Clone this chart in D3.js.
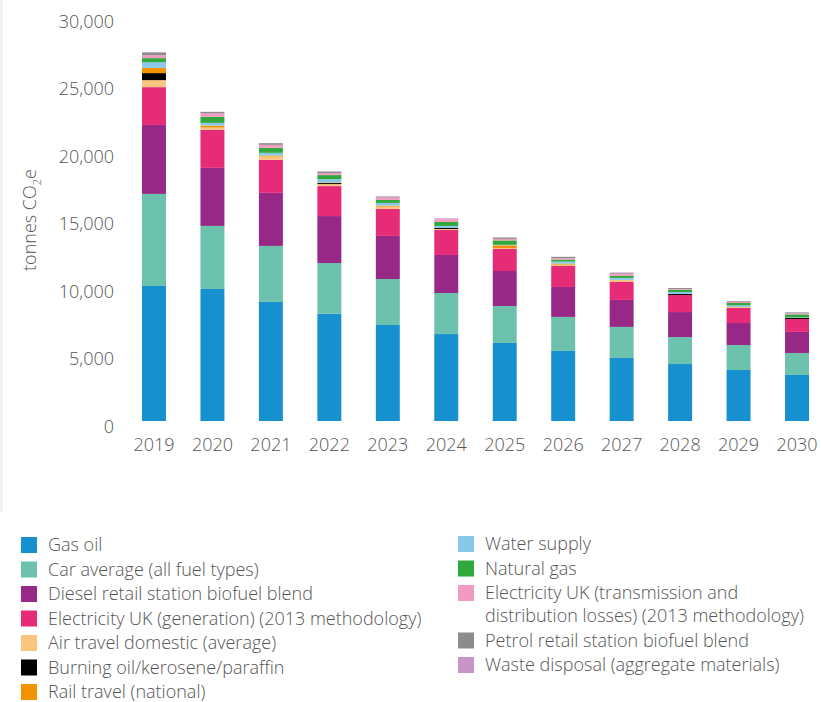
<!DOCTYPE html>
<html>
<head>
<meta charset="utf-8">
<script src="https://cdn.jsdelivr.net/npm/d3@7"></script>
<style>
  body { margin: 0; background: #fff; }
  text { font-family: "Open Sans", sans-serif; font-weight: 300; fill: #555; }
</style>
</head>
<body>
<svg id="chart" width="821" height="702"></svg>
<script>
var years = ['2019', '2020', '2021', '2022', '2023', '2024', '2025', '2026', '2027', '2028', '2029', '2030']
var yTicks = [0, 5000, 10000, 15000, 20000, 25000, 30000]

// tonnes CO2e per source, one value per year
var gasOil      = [10000, 9780, 8820, 7950, 7110, 6440, 5780, 5190, 4670, 4220, 3780, 3410]
var carAverage  = [6820, 4670, 4150, 3750, 3410, 3040, 2740, 2520, 2300, 2000, 1850, 1630]
var diesel      = [5110, 4300, 3930, 3480, 3190, 2820, 2590, 2220, 2000, 1850, 1630, 1560]
var elecGen     = [2800, 2815, 2445, 2220, 2000, 1850, 1630, 1555, 1330, 1260, 1110, 960]
var airTravel   = [520, 170, 245, 150, 170, 75, 75, 100, 150, 0, 75, 0]
var burningOil  = [520, 0, 0, 75, 0, 75, 0, 0, 0, 75, 0, 75]
var railTravel  = [390, 150, 75, 40, 75, 0, 200, 75, 0, 0, 0, 0]
var waterSupply = [420, 200, 200, 250, 200, 150, 40, 150, 150, 150, 125, 40]
var naturalGas  = [300, 445, 370, 300, 220, 300, 320, 150, 150, 170, 170, 220]
var elecTD      = [220, 270, 220, 150, 170, 200, 120, 100, 150, 50, 100, 75]
var petrol      = [200, 100, 125, 100, 40, 0, 100, 100, 50, 75, 50, 75]
var waste       = [30, 0, 0, 30, 60, 60, 0, 0, 50, 0, 0, 0]

var series = [
  { name: 'Gas oil', values: gasOil, color: '#1790d0' }
, { name: 'Car average (all fuel types)', values: carAverage, color: '#6dc2ae' }
, { name: 'Diesel retail station biofuel blend', values: diesel, color: '#982886' }
, { name: 'Electricity UK (generation) (2013 methodology)', values: elecGen, color: '#e72c77' }
, { name: 'Air travel domestic (average)', values: airTravel, color: '#fbc580' }
, { name: 'Burning oil/kerosene/paraffin', values: burningOil, color: '#000000' }
, { name: 'Rail travel (national)', values: railTravel, color: '#f39200' }
, { name: 'Water supply', values: waterSupply, color: '#8ac8ea' }
, { name: 'Natural gas', values: naturalGas, color: '#31a83c' }
, { name: ['Electricity UK (transmission and', 'distribution losses) (2013 methodology)'], values: elecTD, color: '#f39ac0' }
, { name: 'Petrol retail station biofuel blend', values: petrol, color: '#8c8c8e' }
, { name: 'Waste disposal (aggregate materials)', values: waste, color: '#c994c7' }
]

var svg = d3.select('#chart')

// faint frame line on the left edge
svg.append('line')
  .attr('x1', 1.5).attr('x2', 1.5)
  .attr('y1', 0).attr('y2', 512)
  .style('stroke', '#e4eff0')
  .style('stroke-width', 2)

var x = d3.scaleBand().domain(years).range([142, 809]).paddingInner(0.59).paddingOuter(0)
,   y = d3.scaleLinear().domain([0, 30000]).range([421, 16])

var table = years.map((yr, i) => {
  var row = { year: yr }
  series.forEach((s, k) => { row['s' + k] = s.values[i] })
  return row
})

var stack = d3.stack().keys(series.map((s, k) => 's' + k))(table)

var layers = svg.append('g').selectAll('g')
  .data(stack)
  .enter().append('g')
  .style('fill', (d, k) => series[k].color)

layers.selectAll('rect')
  .data((d) => d)
  .enter().append('rect')
  .attr('x', (d) => x(d.data.year))
  .attr('width', x.bandwidth())
  .attr('y', (d) => y(d[1]))
  .attr('height', (d) => y(d[0]) - y(d[1]))

// y axis
var yAxis = svg.append('g')
  .attr('transform', 'translate(114,0)')
  .call(d3.axisLeft(y).tickValues(yTicks).tickFormat(d3.format(',')).tickSize(0).tickPadding(0))

yAxis.select('.domain').remove()
yAxis.selectAll('text')
  .attr('dy', '0.62em')
  .style('font-size', '18px')
  .style('font-family', '"Open Sans", sans-serif')
  .style('font-weight', 300)
  .style('fill', '#555')

// x axis
var xAxis = svg.append('g')
  .attr('transform', 'translate(0,421)')
  .call(d3.axisBottom(x).tickSize(0).tickPadding(0))

xAxis.select('.domain').remove()
xAxis.selectAll('text')
  .attr('y', 30)
  .attr('dy', 0)
  .style('font-size', '18px')
  .style('font-family', '"Open Sans", sans-serif')
  .style('font-weight', 300)
  .style('fill', '#555')

// axis title
var title = svg.append('text')
  .attr('transform', 'translate(36,220) rotate(-90)')
  .attr('text-anchor', 'middle')
  .style('font-size', '18px')

title.append('tspan').text('tonnes CO')
title.append('tspan').text('2').attr('dy', 5).style('font-size', '11px')
title.append('tspan').text('e').attr('dy', -5)

// legend
var leftCol = series.slice(0, 7)
,   rightCol = series.slice(7)

function drawLegend(items, x0, y0) {
  var yPos = y0
  items.forEach((s) => {
    var lines = Array.isArray(s.name) ? s.name : [s.name]
    var g = svg.append('g').attr('transform', 'translate(' + x0 + ',' + yPos + ')')
    g.append('rect')
      .attr('x', 0).attr('y', -8)
      .attr('width', 16).attr('height', 16)
      .style('fill', s.color)
    var t = g.append('text')
      .attr('x', 27)
      .style('font-size', '18px')
    lines.forEach((ln, j) => {
      t.append('tspan').attr('x', 27).attr('y', j * 23).attr('dy', '0.35em').text(ln)
    })
    yPos += 24.5 + (lines.length - 1) * 23
  })
}

drawLegend(leftCol, 21, 545)
drawLegend(rightCol, 458, 544)
</script>
</body>
</html>
